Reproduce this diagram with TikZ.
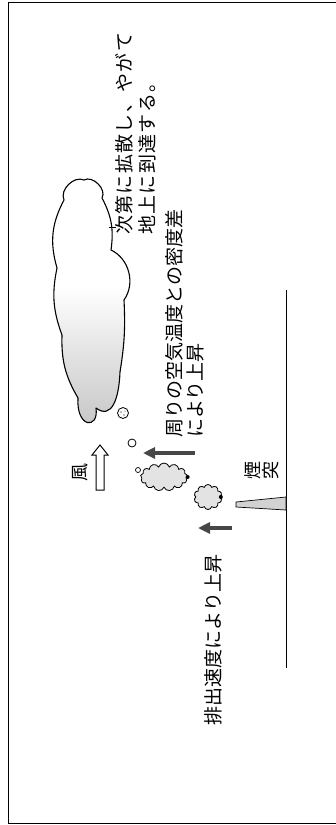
\documentclass[tikz,border=0pt]{standalone}
\usepackage{fontspec}
\newfontfamily\jpfont{Noto Sans CJK JP}
\newfontfamily\jpwide[LetterSpace=7]{Noto Sans CJK JP}
\usetikzlibrary{arrows.meta,shapes.symbols}
% plume fill: white in the upper half, darkening towards the base
\pgfdeclareverticalshading{plume}{100bp}{color(0bp)=(gray!45); color(25bp)=(gray!45); color(40bp)=(gray!22); color(53bp)=(white); color(100bp)=(white)}

\begin{document}
\begin{tikzpicture}[x=1pt,y=-1pt,
  lbl/.style={font=\jpfont\fontsize{19pt}{21pt}\selectfont, rotate=90, inner sep=0pt},
  risearrow/.style={draw=black!72, line width=3.5pt, -{Triangle[length=12pt,width=11pt]}},
  puff/.style={cloud, draw, line width=0.8pt, fill=gray!22, inner sep=0pt},
  outline/.style={line width=1.1pt, line join=round},
]
\useasboundingbox (0,0) rectangle (335,825);
\fill[white] (0,0) rectangle (335,825);

% frame
\draw[line width=0.9pt] (337,2) -- (8,2) -- (8,823) -- (337,823);

% ground
\coordinate (gtop) at (286,290);
\coordinate (gbot) at (286,668);
\draw[line width=1pt] (gtop) -- (gbot);

% chimney
\draw[fill=gray!35, line width=0.7pt] (236,502) -- (286,497) -- (286,510) -- (236,507) -- cycle;

% drifting plume cloud
\draw[outline, shading=plume]
  (64,200) to[bend left=70] (84,180) to[bend left=75] (102,198)
  to[bend left=18] (111,250) to[bend left=50] (124,300)
  to[bend left=6] (120,372)
  .. controls (119,398) and (112,420) .. (96,408)
  .. controls (99,430) and (76,428) .. (78,398)
  to[bend left=16] (62,335)
  to[bend left=16] (57,268) to[bend left=22] (64,200) -- cycle;

% small puffs leaving the stack
\node[puff, cloud puffs=13, aspect=1.8, minimum width=47pt, minimum height=28pt] (p2) at (164,477) {};
\node[puff, cloud puffs=10, aspect=1.2, minimum width=28pt, minimum height=25pt] (p1) at (208,497) {};
\fill (p2.east) circle (2pt);
\fill (p1.east) circle (2pt);
\draw[line width=0.7pt, fill=white] (138,470) circle (2.5pt);

% bubbles
\draw[line width=0.8pt] (132,443) circle (4pt);
\draw[line width=0.8pt] (123,413) circle (5.5pt);
\fill (121,412) circle (0.6pt) (124,415) circle (0.6pt) (125,411) circle (0.5pt);

% wind arrow
\draw[line width=1pt, fill=white, line join=miter]
  (100,445) -- (108,455) -- (104,455) -- (104,490) -- (96,490) -- (96,455) -- (92,455) -- cycle;

% rise arrows
\coordinate (a1s) at (195,453);
\coordinate (a1e) at (143,453);
\draw[risearrow] (a1s) -- (a1e);
\coordinate (a2s) at (232,528);
\coordinate (a2e) at (198,528);
\draw[risearrow] (a2s) -- (a2e);

% labels
\node[lbl, font=\jpwide\fontsize{19pt}{23pt}\selectfont, anchor=north west, align=left] (spread) at (115,235) {次第に拡散し、やがて\\地上に到達する。};
\node[lbl, anchor=north west, align=left] (dens) at (165,438) {周りの空気温度との密度差\\により上昇};
\node[lbl] (vel) at (213,640) {排出速度により上昇};
\node[lbl, font=\jpfont\fontsize{18pt}{18pt}\selectfont, align=center] (stack) at (262,470) {煙\\突};
\node[lbl, font=\jpfont\fontsize{18pt}{18pt}\selectfont] (wind) at (80,472) {風};

% leader from the cloud to its note
\coordinate (cl) at (109,227);
\coordinate (ce) at (116,227);
\draw[line width=0.8pt] (cl) -- (ce);
\end{tikzpicture}
\end{document}
